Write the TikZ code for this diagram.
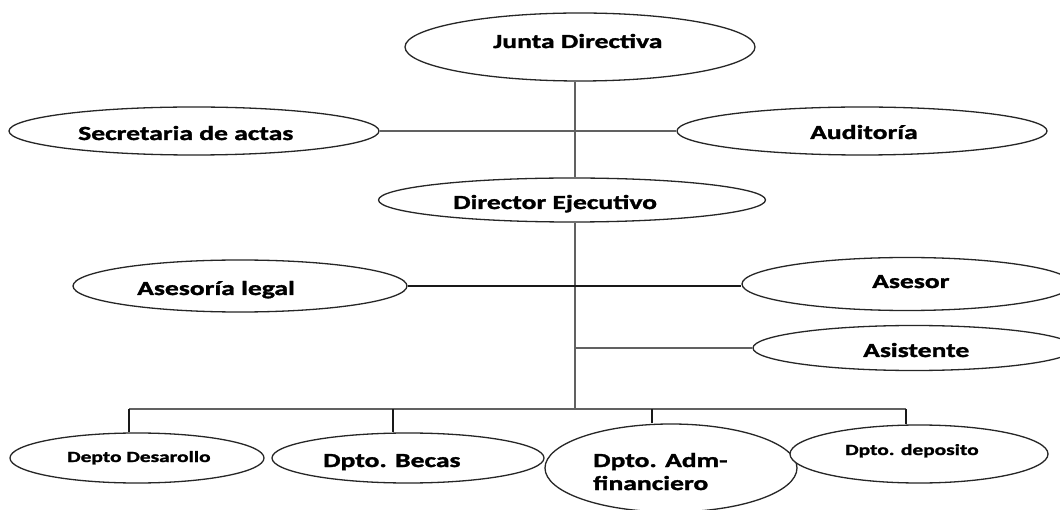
\documentclass[tikz,border=0pt]{standalone}
\usepackage{fontspec}
\newfontfamily\lblfont{Carlito}[FakeStretch=1.38,BoldFeatures={FakeBold=1.6}]
\usetikzlibrary{shapes.geometric}
\begin{document}
\begin{tikzpicture}[x=1pt,y=-1pt,
  oval/.style={draw=black!85,line width=1.3pt,ellipse,inner sep=0pt,fill=white},
  lbl/.style={anchor=base west,inner sep=0pt,font=\lblfont\bfseries\fontsize{20pt}{22pt}\selectfont},
  lbls/.style={anchor=base west,inner sep=0pt,font=\lblfont\bfseries\fontsize{15.5pt}{17pt}\selectfont},
  conn/.style={draw=black!62,line width=1.8pt},
  connb/.style={draw=black!90,line width=1.3pt}]
\useasboundingbox (0,0) rectangle (1060,510);
\fill[white] (0,0) rectangle (1060,510);

% coordinates for the trunk and bus
\coordinate (tr) at (575,0);
\coordinate (bus) at (575,409);
\coordinate (b1) at (129,409);
\coordinate (b2) at (393,409);
\coordinate (b3) at (652,409);
\coordinate (b4) at (906,409);
\coordinate (asij) at (575,348);

% ellipses
\node[oval,minimum width=350pt,minimum height=68pt] (jd) at (580,47) {};
\node[oval,minimum width=370pt,minimum height=48pt] (sec) at (194,131) {};
\node[oval,minimum width=370pt,minimum height=48pt] (aud) at (862,131) {};
\node[oval,minimum width=387pt,minimum height=44pt] (de) at (572,200) {};
\node[oval,minimum width=334pt,minimum height=52pt] (leg) at (240,286) {};
\node[oval,minimum width=330pt,minimum height=53pt] (ase) at (907,284) {};
\node[oval,minimum width=322pt,minimum height=45pt] (asi) at (914,348) {};
\node[oval,minimum width=254pt,minimum height=50pt] (d1) at (137,458) {};
\node[oval,minimum width=272pt,minimum height=50pt] (d2) at (408,458) {};
\node[oval,minimum width=252pt,minimum height=88pt] (d3) at (671,468) {};
\node[oval,minimum width=258pt,minimum height=58pt] (d4) at (919,454) {};

% connectors
\draw[conn] (jd.south -| tr) -- (de.north -| tr);
\draw[conn] (sec.east) -- (aud.west);
\draw[conn] (de.south -| tr) -- (bus);
\draw[connb] (leg.east) -- (leg.east -| ase.west);
\draw[conn] (asij) -- (asi.west);
\draw[conn] (b1) -- (b4);
\draw[connb] (b1) -- (b1 |- d1.north);
\draw[connb] (b2) -- (b2 |- d2.north);
\draw[connb] (b3) -- (b3 |- d3.north);
\draw[connb] (b4) -- (b4 |- d4.north);

% texts
\node[lbl] (tjd) at (493,48) {Junta Directiva};
\node[lbl] (tsec) at (78,140) {Secretaria de actas};
\node[lbl] (taud) at (810,139) {Auditoría};
\node[lbl] (tde) at (453,209) {Director Ejecutivo};
\node[lbl] (tleg) at (137,295) {Asesoría legal};
\node[lbl] (tase) at (872,288) {Asesor};
\node[lbl] (tasi) at (863,357) {Asistente};
\node[lbls] (td1) at (67,462) {Depto Desarollo};
\node[lbl] (td2) at (323,467) {Dpto. Becas};
\node[lbl] (td3a) at (593,467) {Dpto. Adm-};
\node[lbl] (td3b) at (593,490) {financiero};
\node[lbls] (td4) at (845,455) {Dpto. deposito};
\end{tikzpicture}
\end{document}
